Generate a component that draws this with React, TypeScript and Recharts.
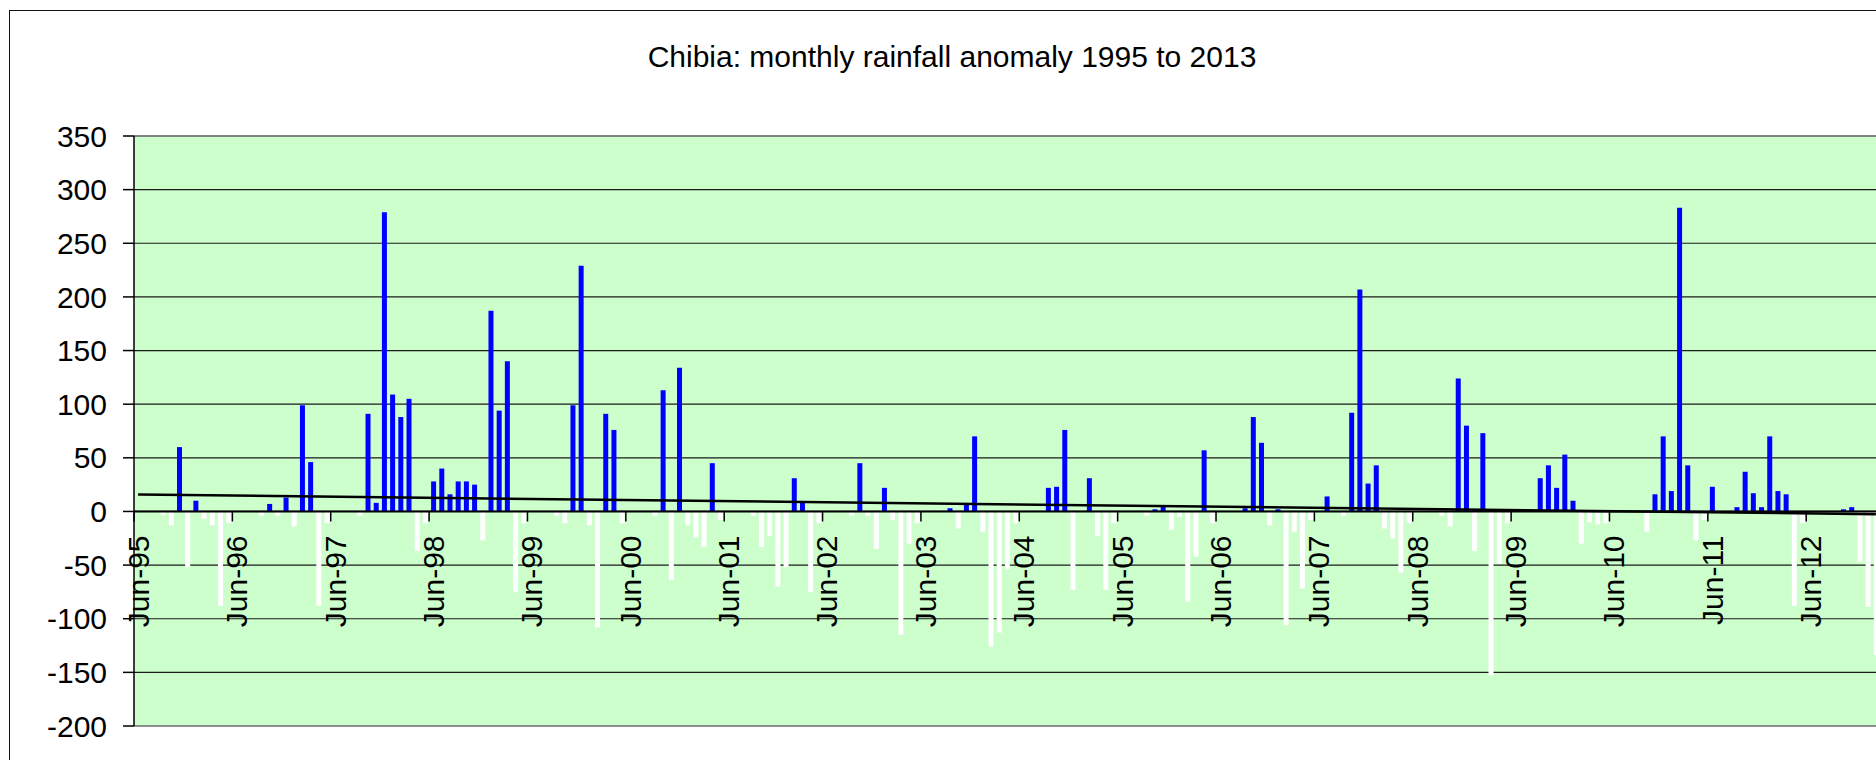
import { ComposedChart, Bar, Cell, XAxis, YAxis, CartesianGrid, ReferenceLine } from 'recharts';

const FONT = '"Liberation Sans", Arial, sans-serif';
const TITLE = 'Chibia: monthly rainfall anomaly 1995 to 2013';

const MON = ['Jan', 'Feb', 'Mar', 'Apr', 'May', 'Jun', 'Jul', 'Aug', 'Sep', 'Oct', 'Nov', 'Dec'];
const START_YEAR = 1995;
const START_MONTH = 5; // Jun

// rainfall anomaly (mm), one array per season Jun..May
const S1995 = [0, 0, 0, -3, -13, 60, -52, 10, -7, -13, -88, -11];
const S1996 = [0, 0, 0, -4, 7, -4, 13, -14, 99, 46, -88, -11];
const S1997 = [0, 0, 0, -4, 91, 8, 279, 109, 88, 105, -37, -11];
const S1998 = [28, 40, 16, 28, 28, 25, -27, 187, 94, 140, -75, -11];
const S1999 = [0, 0, 0, -4, -11, 99, 229, -13, -108, 91, 76, -11];
const S2000 = [0, 0, 0, -4, 113, -64, 134, -13, -24, -33, 45, -8];
const S2001 = [0, 0, 0, -4, -33, -23, -70, -52, 31, 8, -75, -11];
const S2002 = [0, 0, 0, -4, 45, -4, -35, 22, -8, -115, -30, -11];
const S2003 = [0, 0, 0, 3, -16, 6, 70, -19, -126, -113, -54, -11];
const S2004 = [0, 0, 0, 22, 23, 76, -73, 0, 31, -23, -73, -11];
const S2005 = [0, 0, 0, -4, 2, 5, -17, -5, -84, -42, 57, -11];
const S2006 = [0, 0, 0, 3, 88, 64, -13, 2, -106, -19, -72, -8];
const S2007 = [0, 14, 0, -4, 92, 207, 26, 43, -16, -25, -57, -11];
const S2008 = [0, 0, 0, -4, -14, 124, 80, -37, 73, -153, -49, -11];
const S2009 = [0, 0, 0, 31, 43, 22, 53, 10, -30, -10, -12, -11];
const S2010 = [0, 0, 0, 0, -19, 16, 70, 19, 283, 43, -27, -8];
const S2011 = [23, 0, 0, 4, 37, 17, 4, 70, 19, 16, -88, -11];
const S2012 = [0, 0, 0, 0, 2, 4, -47, -89, -134];

const RAIN = [
  ...S1995, ...S1996, ...S1997, ...S1998, ...S1999, ...S2000, ...S2001, ...S2002, ...S2003,
  ...S2004, ...S2005, ...S2006, ...S2007, ...S2008, ...S2009, ...S2010, ...S2011, ...S2012,
];

// linear trend as drawn: value at first and last month
const TREND = [15.8, -2.5];

const Y_TICKS = [-200, -150, -100, -50, 0, 50, 100, 150, 200, 250, 300, 350];
const Y_MIN = -200;
const Y_MAX = 350;

const MONTHS = RAIN.map((_, i) => {
  const k = START_MONTH + i;
  const yy = String((START_YEAR + Math.floor(k / 12)) % 100).padStart(2, '0');
  return `${MON[k % 12]}-${yy}`;
});

const DATA = RAIN.map((v, i) => ({ month: MONTHS[i], rain: v }));

const W = 1900;
const H = 760;
const X_AXIS_H = 30;
const MARGIN = { top: 136, right: 20, bottom: 4, left: 0 };
const Y_AXIS_W = 134;
const PLOT_W = W - MARGIN.left - MARGIN.right - Y_AXIS_W;
const PLOT_H = H - MARGIN.top - MARGIN.bottom - X_AXIS_H;
const CAT_W = PLOT_W / MONTHS.length;
const ZERO_Y = MARGIN.top + (PLOT_H * Y_MAX) / (Y_MAX - Y_MIN);

function MonthTick(props: any) {
  const { x, payload } = props;
  const bx = x - CAT_W / 2;
  return (
    <g>
      <line x1={bx} x2={bx} y1={ZERO_Y} y2={ZERO_Y + 10} stroke="#000" strokeWidth={1.5} />
      <text
        x={0}
        y={0}
        dy="0.36em"
        transform={`translate(${x},${ZERO_Y + 24}) rotate(-90)`}
        textAnchor="end"
        fontSize={30}
        fontFamily={FONT}
        fill="#000"
      >
        {payload.value}
      </text>
    </g>
  );
}

export default function App() {
  const last = MONTHS.length - 1;
  return (
    <div style={{ position: 'fixed', left: 0, top: 0, width: 1876, height: 760, overflow: 'hidden', background: '#fff' }}>
      <div style={{ position: 'absolute', left: 9, top: 10, width: 2000, height: 1000, border: '1.5px solid #111' }} />
      <svg style={{ position: 'absolute', left: 0, top: 0 }} width={1876} height={120}>
        <text x={952} y={67} textAnchor="middle" fontSize={30} fontFamily={FONT} fill="#000">{TITLE}</text>
      </svg>
      <div style={{ position: 'absolute', left: 0, top: 0 }}>
        <ComposedChart width={W} height={H} data={DATA} margin={MARGIN}>
          <CartesianGrid vertical={false} stroke="#1a1a1a" strokeWidth={1.2} fill="#CCFFCC" fillOpacity={1} />
          <Bar dataKey="rain" barSize={5} isAnimationActive={false}>
            {DATA.map((d, i) => (
              <Cell key={i} fill={d.rain >= 0 ? '#0000FF' : '#FFFFFF'} />
            ))}
          </Bar>
          <ReferenceLine y={Y_MAX} stroke="#808080" strokeWidth={1.5} />
          <ReferenceLine y={Y_MIN} stroke="#909090" strokeWidth={1.5} />
          <ReferenceLine y={0} stroke="#000" strokeWidth={2} />
          <ReferenceLine
            segment={[{ x: MONTHS[0], y: TREND[0] }, { x: MONTHS[last], y: TREND[1] }]}
            stroke="#000"
            strokeWidth={2.5}
          />
          <XAxis
            dataKey="month"
            interval={11}
            height={X_AXIS_H}
            axisLine={false}
            tickLine={false}
            tick={(p: any) => <MonthTick {...p} />}
          />
          <YAxis
            type="number"
            domain={[Y_MIN, Y_MAX]}
            ticks={Y_TICKS}
            interval={0}
            width={Y_AXIS_W}
            tickSize={11}
            tickMargin={16}
            axisLine={{ stroke: '#000', strokeWidth: 1.5 }}
            tickLine={{ stroke: '#000', strokeWidth: 1.5 }}
            tick={{ fontSize: 30, fill: '#000', fontFamily: FONT }}
          />
        </ComposedChart>
      </div>
    </div>
  );
}
